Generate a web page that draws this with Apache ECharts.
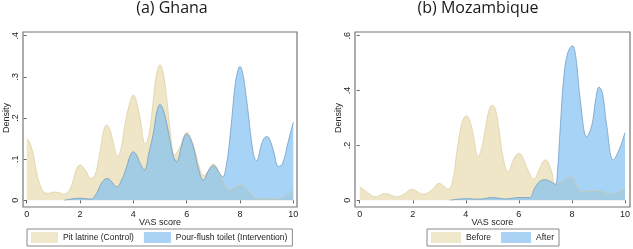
<!DOCTYPE html>
<html>
<head>
<meta charset="utf-8">
<script src="https://cdn.jsdelivr.net/npm/echarts@6/dist/echarts.min.js"></script>
<style>
  html, body { margin: 0; padding: 0; background: #fff; }
  #chart { width: 633px; height: 249px; }
</style>
</head>
<body>
<div id="chart"></div>
<script>
// Ghana - kernel density of VAS score
const ghanaControlX = [0, 0.12, 0.25, 0.4, 0.55, 0.7, 0.85, 1, 1.2, 1.4, 1.6, 1.75, 1.88, 2, 2.12, 2.25, 2.4, 2.55, 2.7, 2.88, 3, 3.12, 3.25, 3.41, 3.55, 3.7, 3.88, 4, 4.12, 4.25, 4.45, 4.6, 4.75, 4.88, 5, 5.12, 5.25, 5.4, 5.55, 5.75, 6, 6.25, 6.5, 6.65, 7, 7.3, 7.6, 8, 8.35, 8.6, 9, 9.5, 9.75, 10]
const ghanaControlY = [0.15, 0.14, 0.11, 0.06, 0.03, 0.018, 0.017, 0.02, 0.019, 0.015, 0.025, 0.05, 0.078, 0.086, 0.08, 0.068, 0.053, 0.06, 0.1, 0.168, 0.183, 0.172, 0.14, 0.106, 0.13, 0.19, 0.24, 0.256, 0.24, 0.2, 0.137, 0.165, 0.245, 0.31, 0.329, 0.31, 0.25, 0.16, 0.11, 0.13, 0.165, 0.135, 0.075, 0.06, 0.088, 0.055, 0.025, 0.037, 0.021, 0.005, 0.003, 0.004, 0.012, 0.024]
const ghanaInterX = [1.4, 2, 2.4, 2.6, 2.75, 2.88, 3, 3.12, 3.37, 3.6, 3.75, 3.88, 4, 4.12, 4.25, 4.41, 4.6, 4.75, 4.88, 5, 5.12, 5.25, 5.5, 5.62, 5.8, 5.9, 6, 6.1, 6.25, 6.45, 6.62, 6.8, 6.9, 7, 7.1, 7.2, 7.35, 7.5, 7.65, 7.8, 7.9, 8, 8.1, 8.25, 8.5, 8.62, 8.8, 8.9, 9, 9.1, 9.25, 9.45, 9.6, 9.8, 10]
const ghanaInterY = [0, 0.005, 0.003, 0.015, 0.035, 0.048, 0.053, 0.05, 0.033, 0.055, 0.082, 0.108, 0.118, 0.11, 0.09, 0.074, 0.12, 0.163, 0.215, 0.233, 0.22, 0.187, 0.108, 0.094, 0.13, 0.153, 0.161, 0.155, 0.13, 0.075, 0.049, 0.07, 0.08, 0.084, 0.08, 0.07, 0.057, 0.09, 0.17, 0.27, 0.31, 0.325, 0.31, 0.244, 0.114, 0.096, 0.135, 0.15, 0.155, 0.15, 0.122, 0.082, 0.09, 0.14, 0.19]

// Mozambique
const mozBeforeX = [0, 0.25, 0.59, 0.96, 1.4, 1.7, 1.96, 2.4, 2.75, 2.99, 3.34, 3.5, 3.65, 3.8, 3.9, 4.02, 4.15, 4.3, 4.46, 4.62, 4.75, 4.88, 5, 5.12, 5.25, 5.4, 5.59, 5.8, 5.9, 6, 6.1, 6.3, 6.56, 6.8, 6.9, 7, 7.1, 7.25, 7.37, 7.6, 7.95, 8.38, 9, 9.5, 10]
const mozBeforeY = [0.05, 0.032, 0.013, 0.025, 0.013, 0.025, 0.04, 0.022, 0.04, 0.062, 0.041, 0.07, 0.17, 0.26, 0.295, 0.308, 0.29, 0.23, 0.159, 0.2, 0.27, 0.33, 0.347, 0.33, 0.26, 0.16, 0.104, 0.15, 0.165, 0.171, 0.165, 0.12, 0.078, 0.12, 0.14, 0.147, 0.14, 0.1, 0.058, 0.065, 0.086, 0.031, 0.035, 0.022, 0.044]
const mozAfterX = [3.4, 4, 4.5, 5, 5.5, 6, 6.4, 6.6, 6.8, 7, 7.2, 7.37, 7.45, 7.55, 7.7, 7.85, 8.02, 8.15, 8.31, 8.56, 8.75, 8.9, 9.02, 9.15, 9.31, 9.56, 9.8, 10]
const mozAfterY = [0, 0.006, 0.004, 0.01, 0.005, 0.01, 0.01, 0.045, 0.07, 0.075, 0.068, 0.058, 0.1, 0.25, 0.456, 0.54, 0.563, 0.52, 0.371, 0.232, 0.274, 0.37, 0.413, 0.39, 0.274, 0.147, 0.19, 0.247]

const xTicks = [0, 2, 4, 6, 8, 10]

const pairs = (xs, ys) => xs.map((x, i) => [x, ys[i]])

const beige = 'rgba(232, 220, 175, 0.7)'
const beigeSolid = '#efe8cb'
const blue = 'rgba(125, 190, 242, 0.68)'
const blueSolid = '#a9d2f4'
const fontFam = '"Liberation Sans", Arial, sans-serif'

const yLabel = (v) => (v === 0 ? '0' : v.toFixed(1).replace(/^0/, ''))

const makeX = (idx) => ({
    type: 'value',
    gridIndex: idx,
    min: 0,
    max: 10,
    interval: 2,
    offset: 7,
    name: 'VAS score',
    nameLocation: 'middle',
    nameGap: 11,
    nameMoveOverlap: false,
    nameTextStyle: { color: '#222', fontSize: 9, fontFamily: fontFam },
    axisLine: { show: false },
    axisTick: { show: true, length: 3, lineStyle: { color: '#666' } },
    axisLabel: { color: '#222', fontSize: 9, margin: 3, fontFamily: fontFam,
        formatter: (v) => (xTicks.includes(v) ? String(v) : '') },
    splitLine: { show: false },
})

const makeY = (idx, max, interval, off) => ({
    type: 'value',
    gridIndex: idx,
    min: 0,
    max: max,
    interval: interval,
    offset: off,
    name: 'Density',
    nameLocation: 'middle',
    nameRotate: 90,
    nameGap: 12,
    nameMoveOverlap: false,
    nameTextStyle: { color: '#222', fontSize: 9, fontFamily: fontFam },
    axisLine: { show: false },
    axisTick: { show: true, length: 3, lineStyle: { color: '#666' } },
    axisLabel: { color: '#222', fontSize: 9, margin: 3, rotate: 90, fontFamily: fontFam, formatter: yLabel },
    splitLine: { show: false },
})

const areaSeries = (name, idx, data, fill, solid, line) => ({
    name: name,
    type: 'line',
    xAxisIndex: idx,
    yAxisIndex: idx,
    data: data,
    smooth: 0.4,
    showSymbol: false,
    symbol: 'none',
    itemStyle: { color: solid },
    lineStyle: { color: line, width: 1 },
    areaStyle: { color: fill, opacity: 1 },
    silent: true,
})

const legendBase = {
    icon: 'rect', itemHeight: 11, itemGap: 10,
    padding: [3, 5, 3, 4],
    borderColor: '#888', borderWidth: 1, backgroundColor: '#fff',
    itemStyle: { borderWidth: 0 },
    textStyle: { fontSize: 8.5, color: '#222', fontFamily: fontFam },
}

const chart = echarts.init(document.getElementById('chart'))
chart.setOption({
    backgroundColor: '#fff',
    animation: false,
    title: [
        { text: '(a) Ghana', left: 172, top: 0, padding: 0, textAlign: 'center',
          textStyle: { fontFamily: '"Open Sans", sans-serif', fontSize: 16, fontWeight: 'normal', color: '#1a1a1a' } },
        { text: '(b) Mozambique', left: 478, top: 0, padding: 0, textAlign: 'center',
          textStyle: { fontFamily: '"Open Sans", sans-serif', fontSize: 16, fontWeight: 'normal', color: '#1a1a1a' } },
    ],
    grid: [
        { left: 26.7, top: 35.7, width: 266.6, height: 164.6 },
        { left: 359.7, top: 35.7, width: 266.6, height: 164.6 },
    ],
    xAxis: [makeX(0), makeX(1)],
    yAxis: [makeY(0, 0.4, 0.1, 4), makeY(1, 0.6, 0.2, 5)],
    legend: [
        Object.assign({}, legendBase, {
            data: ['Pit latrine (Control)', 'Pour-flush toilet (Intervention)'],
            left: 27, top: 229, itemWidth: 27, itemGap: 10,
        }),
        Object.assign({}, legendBase, {
            data: ['Before', 'After'],
            left: 427, top: 229, itemWidth: 30,
        }),
    ],
    graphic: [
        { type: 'rect', shape: { x: 23, y: 32, width: 274, height: 175 }, silent: true, z: 100,
          style: { fill: 'none', stroke: '#777', lineWidth: 1.2 } },
        { type: 'rect', shape: { x: 355, y: 32, width: 275, height: 175 }, silent: true, z: 100,
          style: { fill: 'none', stroke: '#777', lineWidth: 1.2 } },
    ],
    series: [
        areaSeries('Pit latrine (Control)', 0, pairs(ghanaControlX, ghanaControlY), beige, beigeSolid, 'rgba(215, 200, 150, 0.6)'),
        areaSeries('Pour-flush toilet (Intervention)', 0, pairs(ghanaInterX, ghanaInterY), blue, blueSolid, 'rgba(105, 150, 190, 0.7)'),
        areaSeries('Before', 1, pairs(mozBeforeX, mozBeforeY), beige, beigeSolid, 'rgba(215, 200, 150, 0.6)'),
        areaSeries('After', 1, pairs(mozAfterX, mozAfterY), blue, blueSolid, 'rgba(105, 150, 190, 0.7)'),
    ],
})
</script>
</body>
</html>
